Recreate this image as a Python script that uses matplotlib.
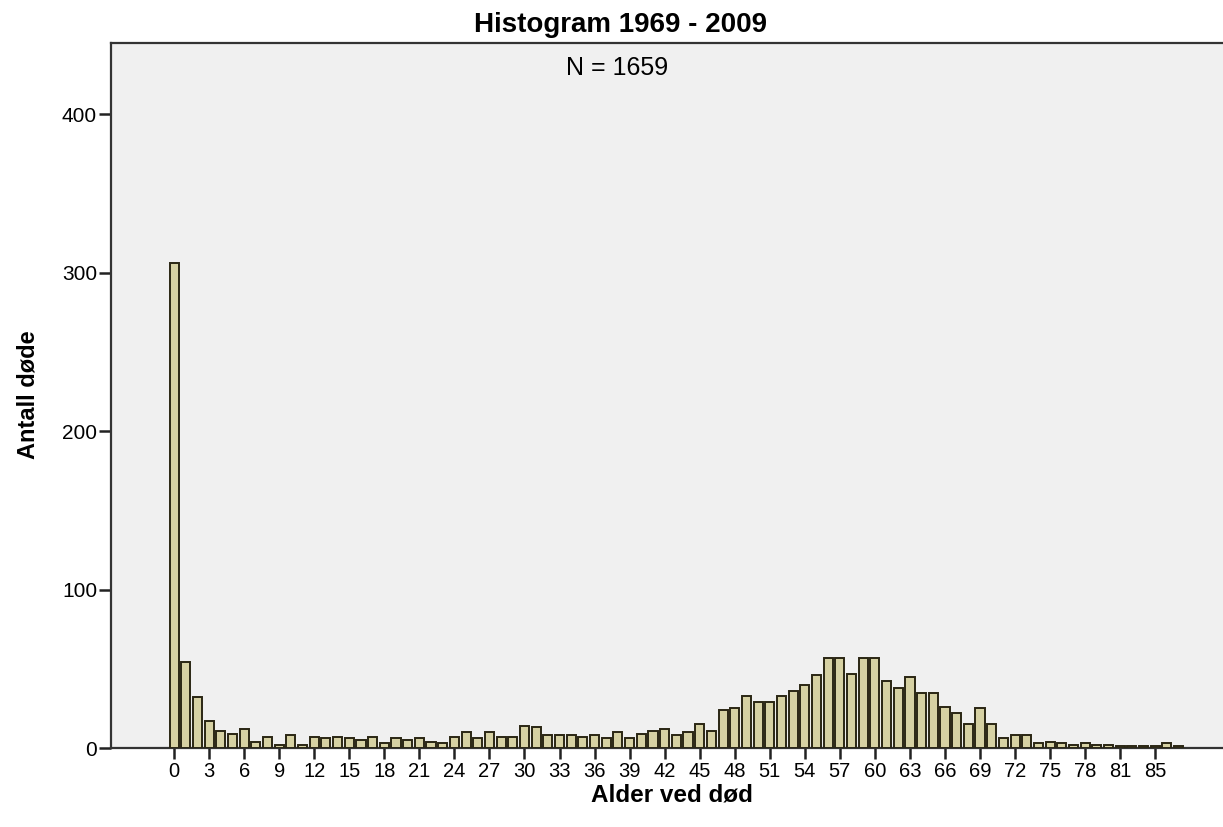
import matplotlib
matplotlib.use("Agg")
import matplotlib.pyplot as plt
import numpy as np

plt.rcParams['font.family'] = ['Liberation Sans', 'DejaVu Sans']

# Categories (ages present in the data) and counts
ages = list(range(0, 84)) + [85, 86, 87]
counts = [306, 54, 32, 17, 11, 9, 12, 4, 7, 2,
          8, 2, 7, 6, 7, 6, 5, 7, 3, 6,
          5, 6, 4, 3, 7, 10, 6, 10, 7, 7,
          14, 13, 8, 8, 8, 7, 8, 6, 10, 6,
          9, 11, 12, 8, 10, 15, 11, 24, 25, 33,
          29, 29, 33, 36, 40, 46, 57, 57, 47, 57,
          57, 42, 38, 45, 35, 35, 26, 22, 15, 25,
          15, 6, 8, 8, 3, 4, 3, 2, 3, 2,
          2, 1, 1, 1, 1, 3, 1]
tick_every = 3
title = "Histogram 1969 - 2009"
subtitle = "N = 1659"
xlabel = "Alder ved død"
ylabel = "Antall døde"
yticks = [0, 100, 200, 300, 400]

fig = plt.figure(figsize=(12.23, 8.27), dpi=100)
ax = fig.add_axes([111/1223, 1 - 748/827, 1 - 111/1223, (748 - 43)/827])
ax.set_facecolor('#f0f0f0')

x = np.arange(len(ages))
ax.bar(x, counts, width=0.78, color='#d6d1a3', edgecolor='#2a2614', linewidth=1.4, zorder=3)

ax.set_xlim(-5.4, 89.8)
ax.set_ylim(0, 445)

tick_idx = x[::tick_every]
ax.set_xticks(tick_idx)
ax.set_xticklabels([str(ages[i]) for i in tick_idx], fontsize=14.5)
ax.set_yticks(yticks)
ax.set_yticklabels([str(v) for v in yticks], fontsize=15)
ax.tick_params(axis='x', direction='out', length=8, width=1.8, color='#222222', pad=2)
ax.tick_params(axis='y', direction='out', length=9, width=1.8, color='#222222', pad=1)

for s in ['left', 'top', 'bottom']:
    ax.spines[s].set_color('#333333')
    ax.spines[s].set_linewidth(1.6)
ax.spines['right'].set_visible(False)

fig.text(672/1223, 1 - 795/827, xlabel, ha='center', va='center', fontsize=17.5, fontweight='bold')
fig.text(28/1223, 1 - 395/827, ylabel, ha='center', va='center', fontsize=17, fontweight='bold', rotation=90)
fig.text(620/1223, 1 - 25/827, title, ha='center', va='center', fontsize=20, fontweight='bold')
fig.text(617/1223, 1 - 68/827, subtitle, ha='center', va='center', fontsize=18)

fig.savefig('out.png', dpi=100)
